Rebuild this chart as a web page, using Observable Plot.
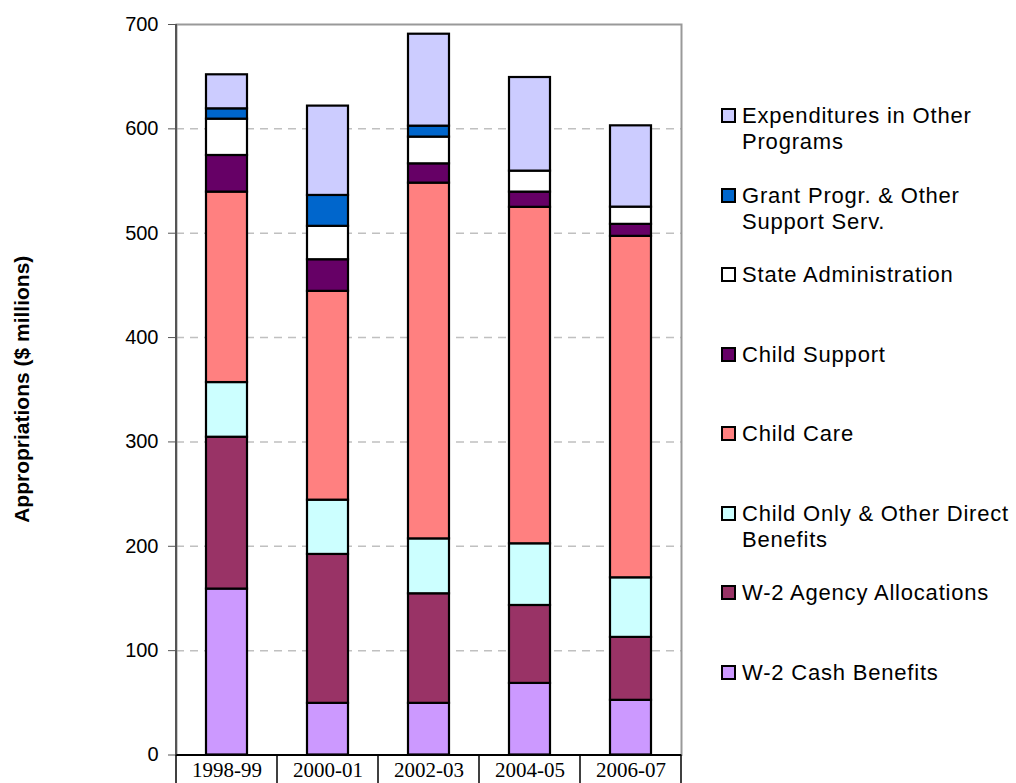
<!DOCTYPE html>
<html>
<head>
<meta charset="utf-8">
<script src="https://cdn.jsdelivr.net/npm/d3@7"></script>
<script src="https://cdn.jsdelivr.net/npm/@observablehq/plot@0.6"></script>
<style>
  body { margin: 0; background: #fff; }
  #wrap { position: relative; width: 1016px; height: 783px; overflow: hidden; background: #fff; }
  #chart svg { display: block; }
  #legend { position: absolute; left: 721px; top: 0; font-family: "Liberation Sans", Arial, sans-serif; font-size: 22px; letter-spacing: 0.8px; color: #000; }
  .item { position: absolute; left: 0; display: flex; align-items: flex-start; line-height: 26px; white-space: nowrap; }
  .sw { width: 11px; height: 11px; border: 2px solid #000; margin-top: 5px; margin-right: 6px; flex: none; }
</style>
</head>
<body>
<div id="wrap"><div id="chart"></div><div id="legend"></div></div>
<script>
// ---- data ----
const years = ["1998-99", "2000-01", "2002-03", "2004-05", "2006-07"];
const series = [
  "W-2 Cash Benefits",
  "W-2 Agency Allocations",
  "Child Only & Other Direct Benefits",
  "Child Care",
  "Child Support",
  "State Administration",
  "Grant Progr. & Other Support Serv.",
  "Expenditures in Other Programs"
];
const legendLines = [
  ["W-2 Cash Benefits"],
  ["W-2 Agency Allocations"],
  ["Child Only & Other Direct", "Benefits"],
  ["Child Care"],
  ["Child Support"],
  ["State Administration"],
  ["Grant Progr. & Other", "Support Serv."],
  ["Expenditures in Other", "Programs"]
];
const colors = ["#CC99FF", "#993366", "#CCFFFF", "#FF8080", "#660066", "#FFFFFF", "#0066CC", "#CCCCFF"];

const cashBenefits      = [159.0,  49.5,  49.5,  68.6,  52.4];
const agencyAllocations = [145.5, 142.7, 105.0,  74.7,  60.3];
const childOnly         = [ 52.4,  52.0,  52.6,  59.1,  57.1];
const childCare         = [182.5, 200.1, 340.9, 322.4, 327.2];
const childSupport      = [ 35.1,  30.3,  18.5,  14.6,  11.5];
const stateAdmin        = [ 34.8,  32.0,  25.6,  20.1,  16.5];
const grantPrograms     = [  9.9,  29.6,  10.5,   0.0,   0.0];
const otherPrograms     = [ 32.6,  85.6,  88.1,  89.7,  77.9];

const yTicks = [0, 100, 200, 300, 400, 500, 600, 700];
const gridTicks = [100, 200, 300, 400, 500, 600];
const yTitle = "Appropriations ($ millions)";

const valueLists = [cashBenefits, agencyAllocations, childOnly, childCare, childSupport, stateAdmin, grantPrograms, otherPrograms];
const table = series.flatMap((s, i) => years.map((y, j) => ({year: y, series: s, value: valueLists[i][j]})));

// ---- chart ----
const chart = Plot.plot({
  width: 700,
  height: 783,
  marginLeft: 176,
  marginRight: 19,
  marginTop: 24,
  marginBottom: 28.5,
  style: { fontFamily: "'Liberation Sans', Arial, sans-serif", background: "#fff", color: "#000", overflow: "visible" },
  x: { domain: years, padding: 0 },
  y: { domain: [0, 700] },
  color: { domain: series, range: colors },
  marks: [
    Plot.gridY(gridTicks, { stroke: "#c0c0c0", strokeOpacity: 1, strokeWidth: 1.5, strokeDasharray: "8,6" }),
    Plot.frame({ stroke: "#999", strokeWidth: 2 }),
    Plot.barY(table, {
      x: "year", y: "value", fill: "series", z: "series", order: series,
      stroke: "#000", strokeWidth: 2.2, insetLeft: 30, insetRight: 30
    }),
    Plot.ruleY([0], { stroke: "#000", strokeWidth: 2 }),
    Plot.axisY({ ticks: yTicks, tickSize: 8, tickPadding: 10, fontSize: 20, label: null, stroke: "#555", fill: "#000" }),
    Plot.axisX({ tickSize: 0, tickPadding: 7, fontSize: 21, fontFamily: "'Liberation Serif', 'Times New Roman', serif", label: null })
  ]
});
document.getElementById("chart").appendChild(chart);

// Left axis line, category dividers and y title, all placed through the Plot scales
const xs = chart.scale("x");
const ys = chart.scale("y");
const svg = d3.select(chart);
const x0 = xs.range[0];
svg.append("line")
  .attr("x1", x0).attr("x2", x0)
  .attr("y1", ys.apply(700)).attr("y2", ys.apply(0))
  .attr("stroke", "#555").attr("stroke-width", 2);
const edges = years.map(y => xs.apply(y)).concat([xs.apply(years[years.length - 1]) + xs.bandwidth]);
svg.append("g").selectAll("line").data(edges).join("line")
  .attr("x1", d => d).attr("x2", d => d)
  .attr("y1", ys.apply(0)).attr("y2", 783)
  .attr("stroke", "#000").attr("stroke-width", 1.5);
svg.append("text")
  .attr("transform", `translate(29,${(ys.apply(0) + ys.apply(700)) / 2}) rotate(-90)`)
  .attr("text-anchor", "middle")
  .attr("font-family", "'Liberation Sans', Arial, sans-serif")
  .attr("font-weight", "bold")
  .attr("font-size", 21)
  .attr("fill", "#000")
  .text(yTitle);

// ---- legend (top to bottom: reverse of stack order) ----
const legend = d3.select("#legend");
const order = d3.range(series.length).reverse();
order.forEach((idx, k) => {
  const item = legend.append("div").attr("class", "item").style("top", (103 + k * 79.5) + "px");
  item.append("div").attr("class", "sw").style("background", colors[idx]);
  item.append("div").html(legendLines[idx].join("<br>"));
});
</script>
</body>
</html>
